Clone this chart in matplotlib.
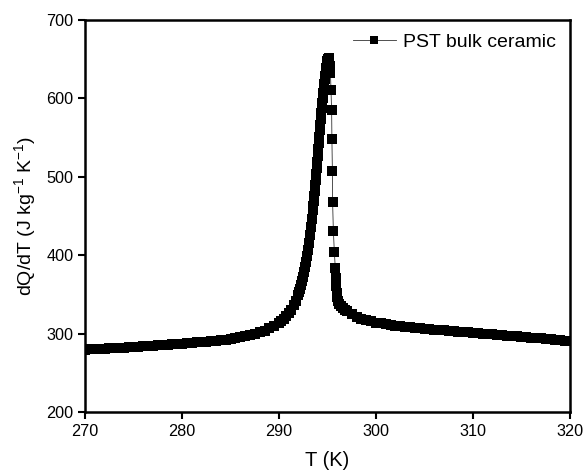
import numpy as np
import matplotlib.pyplot as plt

plt.rcParams['font.family'] = ['Liberation Sans', 'DejaVu Sans']

# temperature (K) and heat flow dQ/dT (J kg^-1 K^-1)
T = [270.0, 270.5, 271.0, 271.5, 272.0, 272.5, 273.0, 273.5, 274.0, 274.5,
     275.0, 275.5, 276.0, 276.5, 277.0, 277.5, 278.0, 278.5, 279.0, 279.5,
     280.0, 280.5, 281.0, 281.5, 282.0, 282.5, 283.0, 283.5, 284.0, 284.5,
     285.0, 285.5, 286.0, 286.5, 287.0, 287.5, 288.0, 288.5, 289.0, 289.5,
     290.0, 290.25, 290.5, 290.75, 291.0, 291.25, 291.5, 291.75,
     292.0, 292.1, 292.2, 292.3, 292.4, 292.5, 292.6, 292.7, 292.8, 292.9,
     293.0, 293.1, 293.2, 293.3, 293.4, 293.5, 293.55, 293.6, 293.65, 293.7,
     293.75, 293.8, 293.85, 293.9, 293.95, 294.0, 294.05, 294.1, 294.15,
     294.2, 294.25, 294.3, 294.35, 294.4, 294.45, 294.5, 294.55, 294.6,
     294.65, 294.7, 294.75, 294.8, 294.85, 294.9, 294.95,
     295.0, 295.1, 295.25, 295.3, 295.35, 295.42, 295.45, 295.5, 295.52,
     295.6, 295.7, 295.8, 295.85, 295.9, 295.95, 296.0, 296.1, 296.2,
     296.4, 296.6, 296.8, 297.0, 297.5, 298.0, 298.5, 299.0, 299.5,
     300.0, 300.5, 301.0, 301.5, 302.0, 302.5, 303.0, 303.5, 304.0, 304.5,
     305.0, 305.5, 306.0, 306.5, 307.0, 307.5, 308.0, 308.5, 309.0, 309.5,
     310.0, 310.5, 311.0, 311.5, 312.0, 312.5, 313.0, 313.5, 314.0, 314.5,
     315.0, 315.5, 316.0, 316.5, 317.0, 317.5, 318.0, 318.5, 319.0, 319.5,
     320.0]
dQdT = [279.5, 279.8, 280.0, 280.3, 280.6, 281.0, 281.3, 281.7, 282.0, 282.4,
        282.8, 283.2, 283.6, 284.0, 284.4, 284.8, 285.2, 285.7, 286.2, 286.6,
        287.1, 287.6, 288.1, 288.6, 289.1, 289.7, 290.3, 290.9, 291.6, 292.3,
        293.1, 294.0, 295.0, 296.2, 297.6, 299.3, 301.3, 303.6, 306.4, 309.8,
        313.8, 316.2, 319.0, 322.2, 326.0, 330.5, 335.8, 342.0,
        349.5, 353.0, 357.0, 361.5, 366.5, 372.0, 378.0, 384.5, 391.5, 399.0,
        407.0, 416.0, 425.5, 435.5, 446.0, 457.0, 463.0, 469.0, 475.5, 482.0,
        489.0, 496.0, 503.5, 511.0, 519.0, 527.0, 535.0, 543.0, 551.0,
        559.0, 566.5, 574.0, 581.0, 588.0, 594.5, 601.0, 607.0, 613.0,
        618.5, 624.0, 629.0, 634.0, 638.5, 643.0, 647.0,
        650.0, 652.0, 641.0, 632.0, 611.0, 585.0, 548.0, 507.0, 468.0,
        431.0, 404.0, 383.0, 371.0, 361.0, 352.0, 346.0, 341.0, 338.0,
        335.0, 332.5, 330.5, 328.5, 325.0, 321.5, 319.0, 317.0, 315.5,
        314.0, 313.0, 312.0, 311.0, 310.1, 309.3, 308.6, 307.9, 307.3, 306.7,
        306.1, 305.5, 305.0, 304.4, 303.9, 303.4, 302.9, 302.4, 301.9, 301.4,
        300.9, 300.4, 299.9, 299.4, 298.9, 298.4, 297.9, 297.4, 296.9, 296.4,
        295.9, 295.4, 294.9, 294.4, 293.8, 293.2, 292.6, 292.0, 291.4, 290.8,
        290.2]

xticks = [270, 280, 290, 300, 310, 320]
yticks = [200, 300, 400, 500, 600, 700]

fig = plt.figure(figsize=(5.87, 4.74), dpi=100)
ax = fig.add_axes([0.145, 0.131, 0.826, 0.827])

ax.plot(T, dQdT, color='#333333', lw=0.6, marker='s', ms=6.8,
        mfc='black', mec='black', mew=0, label='PST bulk ceramic')

ax.set_xlim(270, 320)
ax.set_ylim(200, 700)
ax.set_xticks(xticks)
ax.set_yticks(yticks)
ax.tick_params(direction='out', length=5, width=1.5, labelsize=11.7,
               top=False, right=False)
for s in ax.spines.values():
    s.set_linewidth(1.8)

ax.set_xlabel('T (K)', fontsize=14.5, labelpad=9)
ax.set_ylabel('dQ/dT (J kg$^{\\mathregular{-1}}$ K$^{\\mathregular{-1}}$)',
              fontsize=14, labelpad=5)

ax.legend(loc='upper right', frameon=False, fontsize=14, handlelength=2.2,
          handletextpad=0.4, borderaxespad=0.3, markerscale=0.8)

fig.savefig('out.png', dpi=100)
